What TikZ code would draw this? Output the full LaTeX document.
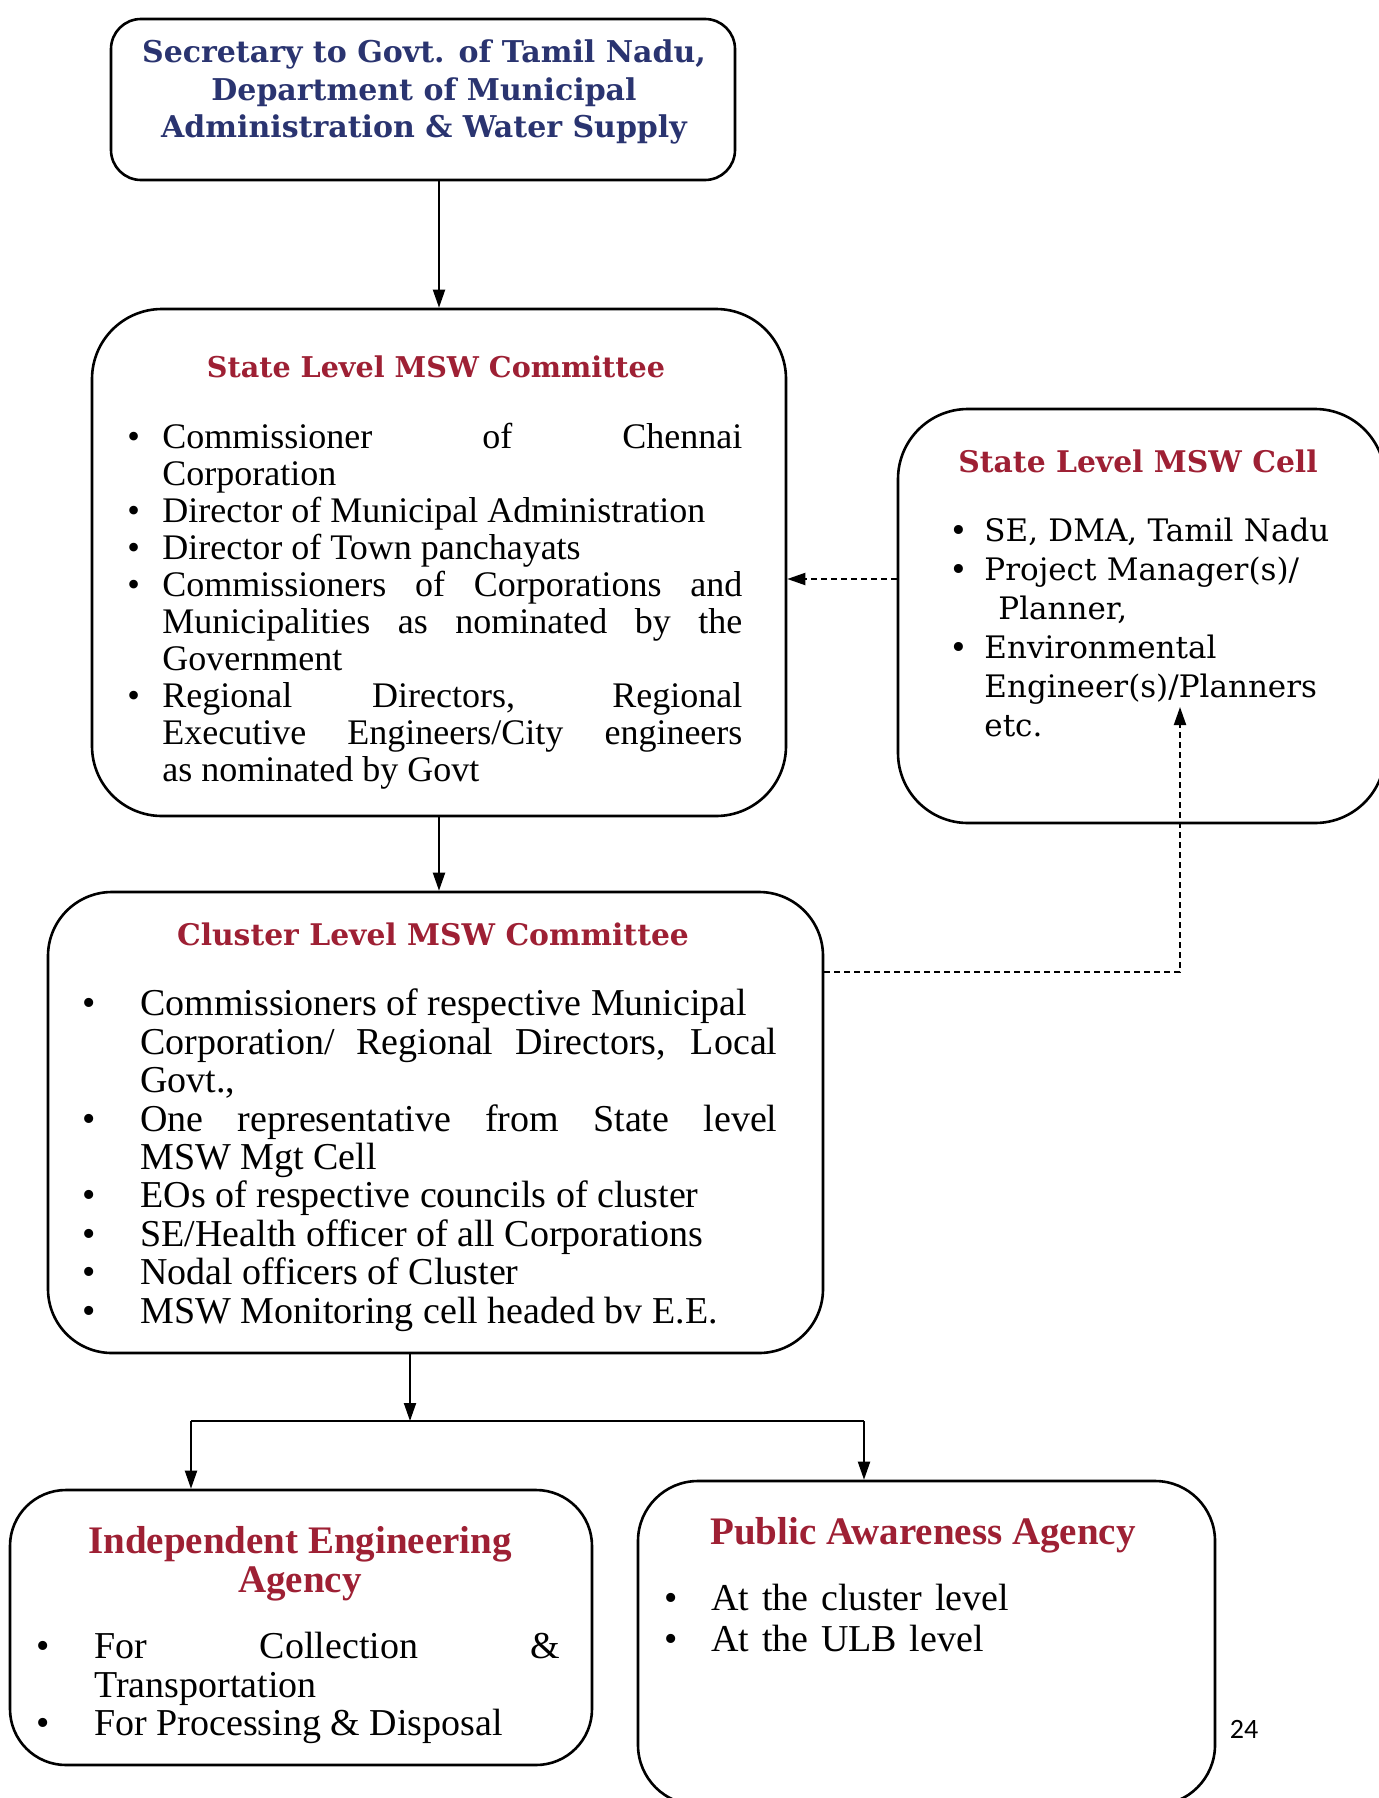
\documentclass[tikz,border=0pt]{standalone}
\usepackage{fontspec}
\setmainfont{Liberation Serif}
\newfontfamily\bkfont{DejaVu Serif}
\newfontfamily\pgnfont{Carlito}
\usetikzlibrary{arrows.meta}
\definecolor{navy}{RGB}{42,52,112}
\definecolor{crim}{RGB}{158,32,52}
\newlength\bhang
\newcommand{\bitem}{\par\hangindent=\bhang\hangafter=1\noindent\hbox to \bhang{\textbullet\hfil}}
\tikzset{
  rbox/.style={draw, line width=1.3pt, rounded corners=#1, inner sep=0pt},
  arr/.style={line width=1pt, -{Triangle[length=9pt,width=6pt]}},
  darr/.style={line width=1pt, dash pattern=on 3pt off 2pt, -{Triangle[length=9pt,width=6pt]}},
  bktitle/.style={font=\bkfont\bfseries\fontsize{14.9}{18.5}\selectfont, text=crim, inner sep=0pt},
  lstitle/.style={font=\bfseries\fontsize{19.5}{19.5}\selectfont, text=crim, inner sep=0pt, align=center},
  body/.style={anchor=north west, inner sep=0pt}
}
\begin{document}
\begin{tikzpicture}[x=0.5pt,y=-0.5pt]
\clip (0,0) rectangle (1379,1798);
\fill[white] (0,0) rectangle (1379,1798);

% boxes
\node[rbox=15pt, minimum width=312pt, minimum height=80.5pt] (b1) at (423,99.5) {};
\node[rbox=35pt, minimum width=347pt, minimum height=253.5pt] (b2) at (439,562.5) {};
\node[rbox=35pt, minimum width=243.5pt, minimum height=207pt] (b3) at (1141.5,616) {};
\node[rbox=32pt, minimum width=387.5pt, minimum height=230.5pt] (b4) at (435.5,1122.5) {};
\node[rbox=28pt, minimum width=291pt, minimum height=137.5pt] (b5) at (301,1627.5) {};
\node[rbox=30pt, minimum width=288.5pt, minimum height=162pt] (b6) at (926.5,1643) {};

% Secretary
\node[font=\bkfont\bfseries\fontsize{15}{18.7}\selectfont, text=navy, align=center, inner sep=0pt] (t1) at (424,92)
  {Secretary to Govt. of Tamil Nadu,\\ Department of Municipal\\ Administration \& Water Supply};

% State Level MSW Committee
\node[bktitle, font=\bkfont\bfseries\fontsize{14.3}{18.5}\selectfont] (t2) at (436,367) {State Level MSW Committee};
\node[body, text width=307.5pt, align=justify, font=\fontsize{18}{18.5}\selectfont] (l2) at (127,411) {%
\setlength\bhang{17.5pt}%
\bitem Commissioner of Chennai\linebreak Corporation
\bitem Director of Municipal Administration
\bitem Director of Town panchayats
\bitem Commissioners of Corporations and\linebreak Municipalities as nominated by the\linebreak Government
\bitem Regional Directors, Regional\linebreak Executive Engineers/City engineers\linebreak as nominated by Govt\par};

% State Level MSW Cell
\node[bktitle] (t3) at (1138,461) {State Level MSW Cell};
\node[body, text width=205pt, font=\bkfont\fontsize{15.5}{19.5}\selectfont] (l3) at (949,502) {%
\setlength\bhang{17.5pt}%
\bitem SE, DMA, Tamil Nadu
\bitem Project Manager(s)/\newline\hspace*{7pt}Planner,
\bitem Environmental\newline Engineer(s)/Planners\newline etc.\par};

% Cluster Level MSW Committee
\node[bktitle] (t4) at (433,934) {Cluster Level MSW Committee};
\node[body, text width=347.5pt, align=justify, font=\fontsize{19}{19.2}\selectfont] (l4) at (82,977) {%
\setlength\bhang{29pt}%
\bitem Commissioners of respective Municipal\newline Corporation/ Regional Directors, Local\linebreak Govt.,
\bitem One representative from State level\linebreak MSW Mgt Cell
\bitem EOs of respective councils of cluster
\bitem SE/Health officer of all Corporations
\bitem Nodal officers of Cluster
\bitem MSW Monitoring cell headed bv E.E.\par};

% Independent Engineering Agency
\node[lstitle] (t5) at (300,1564) {Independent Engineering\\ Agency};
\node[body, text width=262pt, align=justify, font=\fontsize{19}{19.25}\selectfont] (l5) at (36,1620) {%
\setlength\bhang{29pt}%
\bitem For Collection \&\linebreak Transportation
\bitem For Processing \& Disposal\par};

% Public Awareness Agency
\node[lstitle] (t6) at (923,1535) {Public Awareness Agency};
\node[body, text width=200pt, font=\fontsize{19}{20.5}\selectfont] (l6) at (664,1569) {%
\setlength\bhang{23.5pt}%
\bitem At the cluster level
\bitem At the ULB level\par};

% page number
\node[font=\pgnfont\fontsize{14}{16}\selectfont, inner sep=0pt] (pg) at (1244,1729) {24};

% connectors
\coordinate (m) at (0,579);
\coordinate (c1) at (1180,972);
\coordinate (c2) at (1180,707);
\coordinate (j) at (410,1421);
\coordinate (lft) at (191,1421);
\coordinate (rgt) at (864,1421);

\draw[arr] (b1.south -| b2.north) -- (b2.north);
\draw[arr] (b2.south) -- (b2.south |- b4.north);
\draw[darr] (b3.west |- m) -- (b2.east |- m);
\draw[darr] (b4.east |- c1) -- (c1) -- (c2);
\draw[arr] (b4.south -| j) -- (j);
\draw[line width=1pt] (lft) -- (rgt);
\draw[arr] (lft) -- (lft |- b5.north);
\draw[arr] (rgt) -- (rgt |- b6.north);
\end{tikzpicture}
\end{document}
